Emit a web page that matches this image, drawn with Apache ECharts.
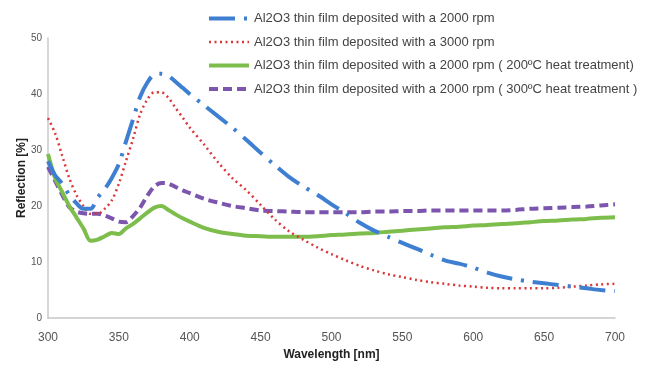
<!DOCTYPE html>
<html>
<head>
<meta charset="utf-8">
<script src="https://cdn.jsdelivr.net/npm/echarts@6/dist/echarts.min.js"></script>
<style>
  html, body { margin: 0; padding: 0; background: #fff; }
  #chart { width: 645px; height: 374px; }
</style>
</head>
<body>
<div id="chart"></div>
<script>
// Reflection spectra of Al2O3 thin films (wavelength in nm, reflection in %)
const wavelengths = [300,305,310,315,320,325,330,335,340,345,350,355,360,365,370,375,380,385,390,395,400,
  410,420,430,440,450,460,470,480,490,500,510,520,530,540,550,560,570,580,590,600,610,620,630,640,650,660,670,680,690,700];

const film2000 = [28,25.5,24,22,20.5,19.5,19.5,21.5,23,25,27.5,31.5,35.5,39.5,42,43.5,43.6,43.2,42.2,41.1,40,
  38,36,34,31.8,29.5,27.3,25.2,23.5,22,20.3,18.7,17,15.6,14.5,13.4,12.4,11.3,10.3,9.7,9,8.1,7.4,6.9,6.5,6.2,5.9,5.6,5.3,5,4.8];

const film3000 = [35.7,33,29,25,22,20,18.6,18.6,19.5,21,24,28,32,36.4,39,40.3,40.3,39.3,37.5,35.8,34,
  31,27.8,25,22.8,20.2,17.6,15.5,14,12.6,11.4,10.3,9.3,8.5,7.8,7.3,6.8,6.4,6.1,5.8,5.6,5.4,5.3,5.3,5.3,5.3,5.4,5.6,5.8,6,6.1];

const film2000h200 = [29.3,25,22.5,20,18,16,13.8,14,14.6,15.2,15,16,16.8,17.8,18.8,19.7,20,19.3,18.5,17.8,17.2,
  16.1,15.4,15,14.7,14.6,14.5,14.5,14.5,14.6,14.8,14.9,15.1,15.2,15.4,15.6,15.8,16,16.2,16.3,16.5,16.6,16.8,16.9,17.1,17.3,17.4,17.6,17.7,17.9,18];

const film2000h300 = [27,24.5,22,19.8,19,18.7,18.6,18.6,18.3,17.8,17.2,17.1,18.2,19.7,21.8,23.5,24.1,24,23.4,22.8,22.3,
  21.3,20.6,20,19.6,19.2,19.1,19,18.9,18.9,18.9,18.9,18.9,19,19,19.1,19.1,19.2,19.2,19.2,19.2,19.2,19.2,19.3,19.5,19.6,19.7,19.8,19.9,20.1,20.3];

const seriesNames = [
  'Al2O3 thin film deposited with a 2000 rpm',
  'Al2O3 thin film deposited with a 3000 rpm',
  'Al2O3 thin film deposited with a 2000 rpm ( 200ºC heat treatment)',
  'Al2O3 thin film deposited with a 2000 rpm ( 300ºC heat treatment )'
];

const xTicks = { min: 300, max: 700, step: 50 };
const yTicks = { min: 0, max: 50, step: 10 };

const pairs = vals => wavelengths.map((w, i) => [w, vals[i]]);

const styles = [
  { color: '#3f7fd2', width: 4, type: [26, 9, 3, 9] },
  { color: '#d9383a', width: 2.5, type: [2, 3.5] },
  { color: '#7dbd4c', width: 4, type: 'solid' },
  { color: '#7b55ae', width: 4, type: [9, 5] }
];

const datasets = [film2000, film3000, film2000h200, film2000h300];

const chart = echarts.init(document.getElementById('chart'), null, { renderer: 'canvas' });
chart.setOption({
  animation: false,
  backgroundColor: '#fff',
  textStyle: { fontFamily: 'Liberation Sans, Arial, sans-serif' },
  grid: { left: 48, right: 30, top: 38, bottom: 56, containLabel: false },
  legend: {
    orient: 'vertical',
    left: 202,
    top: 7,
    itemWidth: 40,
    itemHeight: 12,
    itemGap: 10.5,
    itemStyle: { opacity: 0 },
    textStyle: { fontSize: 13, color: '#444' },
    data: seriesNames.map((name, i) => ({
      name,
      lineStyle: { color: styles[i].color, width: styles[i].width, type: styles[i].type, cap: 'butt' }
    }))
  },
  xAxis: {
    type: 'value',
    min: xTicks.min, max: xTicks.max, interval: xTicks.step,
    name: 'Wavelength [nm]',
    nameLocation: 'middle',
    nameGap: 31,
    nameMoveOverlap: false,
    nameTextStyle: { fontSize: 12, fontWeight: 'bold', color: '#222' },
    axisLine: { lineStyle: { color: '#c8c8c8', width: 1.5 } },
    axisTick: { show: false },
    axisLabel: { fontSize: 12, color: '#555', margin: 14 },
    splitLine: { show: false }
  },
  yAxis: {
    type: 'value',
    min: yTicks.min, max: yTicks.max, interval: yTicks.step,
    name: 'Reflection [%]',
    nameLocation: 'middle',
    nameGap: 20,
    nameMoveOverlap: false,
    nameTextStyle: { fontSize: 12, fontWeight: 'bold', color: '#222' },
    axisLine: { show: true, lineStyle: { color: '#c8c8c8', width: 1.5 } },
    axisTick: { show: false },
    axisLabel: { fontSize: 10, color: '#555', margin: 6 },
    splitLine: { show: false }
  },
  series: datasets.map((d, i) => ({
    name: seriesNames[i],
    type: 'line',
    data: pairs(d),
    showSymbol: false,
    symbol: 'none',
    smooth: 0.3,
    color: styles[i].color,
    lineStyle: { color: styles[i].color, width: styles[i].width, type: styles[i].type, cap: 'butt' },
    z: 4 - i
  }))
});
</script>
</body>
</html>
